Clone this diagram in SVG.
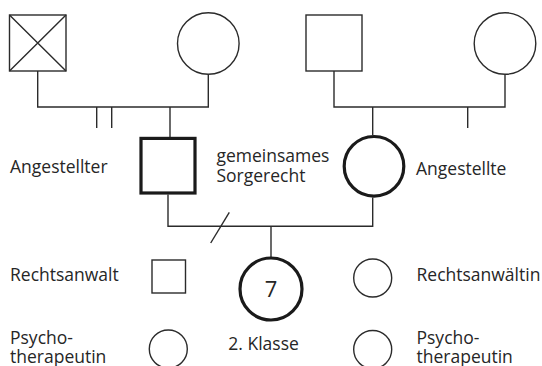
<svg xmlns="http://www.w3.org/2000/svg" width="542" height="366" viewBox="0 0 542 366">
<style>
.ln{fill:none;stroke:#2b2b2b;stroke-width:1.4}
.bd{fill:none;stroke:#1a1a1a;stroke-width:3.2}
.tx{font-family:"Open Sans","Liberation Sans",sans-serif;font-size:17.5px;fill:#262626}
.big{font-size:22px}
</style>
<rect width="542" height="366" fill="#fff"/>
<g id="connectors">
<path class="ln" d="M37.7 71V107H208.3V74.5"/>
<path class="ln" d="M96.7 107V128M111.7 107V128"/>
<path class="ln" d="M170 107V137"/>
<path class="ln" d="M334 71V107H505V74.5"/>
<path class="ln" d="M467.7 107V128"/>
<path class="ln" d="M372.7 107V135"/>
<path class="ln" d="M168 194.5V226.3H372.7V197.5"/>
<path class="ln" d="M210.7 243L229.3 212.3"/>
<path class="ln" d="M271 226.3V257"/>
</g>
<g id="grandfather-paternal">
<rect class="ln" x="9.5" y="15" width="56.5" height="56"/>
<path class="ln" d="M9.5 15L66 71M66 15L9.5 71"/>
</g>
<g id="grandmother-paternal">
<circle class="ln" cx="208.3" cy="43.5" r="30.8"/>
</g>
<g id="grandfather-maternal">
<rect class="ln" x="306" y="15" width="56" height="56"/>
</g>
<g id="grandmother-maternal">
<circle class="ln" cx="505" cy="43.5" r="30.8"/>
</g>
<g id="father">
<rect class="bd" x="141" y="138.4" width="54" height="54.6"/>
<text class="tx" x="10" y="173.3">Angestellter</text>
</g>
<g id="custody-label">
<text class="tx" x="216.5" y="161.5">gemeinsames</text>
<text class="tx" x="216.5" y="182">Sorgerecht</text>
</g>
<g id="mother">
<circle class="bd" cx="374" cy="166.3" r="29.8"/>
<text class="tx" x="416" y="174.5">Angestellte</text>
</g>
<g id="child">
<circle class="bd" cx="271" cy="289" r="31"/>
<text class="tx big" x="271" y="296.7" text-anchor="middle">7</text>
<text class="tx" x="228.3" y="350">2. Klasse</text>
</g>
<g id="lawyer-m">
<rect class="ln" x="152" y="260" width="33.5" height="33"/>
<text class="tx" x="10" y="281">Rechtsanwalt</text>
</g>
<g id="therapist-left">
<circle class="ln" cx="168.3" cy="349" r="19"/>
<text class="tx" x="10" y="343.5">Psycho-</text>
<text class="tx" x="10" y="362.5">therapeutin</text>
</g>
<g id="lawyer-f">
<circle class="ln" cx="372.7" cy="278" r="19"/>
<text class="tx" x="416.5" y="281">Rechtsanwältin</text>
</g>
<g id="therapist-right">
<circle class="ln" cx="372.7" cy="349.5" r="19"/>
<text class="tx" x="416.5" y="343.5">Psycho-</text>
<text class="tx" x="416.5" y="362.5">therapeutin</text>
</g>
</svg>
